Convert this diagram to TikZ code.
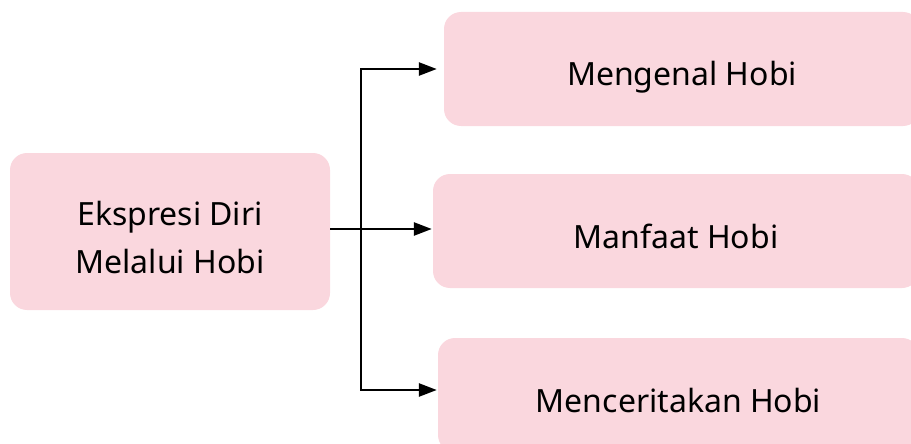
\documentclass[tikz,border=0pt]{standalone}
\usepackage{fontspec}
\setmainfont{Noto Sans}
\usetikzlibrary{arrows.meta}
\definecolor{hobipink}{RGB}{250,215,222}
\begin{document}
\begin{tikzpicture}[x=1pt,y=-1pt]
	\tikzstyle{Box} = [rectangle, rounded corners=17pt, fill=hobipink, inner sep=0pt, font=\fontsize{32pt}{48.3pt}\selectfont, text height=34pt, text depth=0pt]
	\tikzstyle{Arrow} = [line width=2.6pt, -{Triangle[length=18pt,width=13pt]}]
	\useasboundingbox (0,0) rectangle (911,444);
	\clip (0,0) rectangle (911,444);
	\node (0) at (170,231.5) [Box, minimum width=320pt, minimum height=157pt, align=center, text height=83.6pt] {Ekspresi Diri\\Melalui Hobi};
	\node (1) at (682,69) [Box, minimum width=476pt, minimum height=114pt] {Mengenal Hobi};
	\node (2) at (676,231) [Box, minimum width=486pt, minimum height=114pt] {Manfaat Hobi};
	\node (3) at (678.5,395) [Box, minimum width=481pt, minimum height=114pt] {Menceritakan Hobi};
	\coordinate (4) at (361,229);
	\draw [Arrow] (0.east |- 4) to ([xshift=-1pt]2.west |- 4);
	\draw [Arrow] (4) |- ([xshift=-7pt]1.west);
	\draw [Arrow] (4) |- ([xshift=-1pt,yshift=5pt]3.west);
\end{tikzpicture}
\end{document}
